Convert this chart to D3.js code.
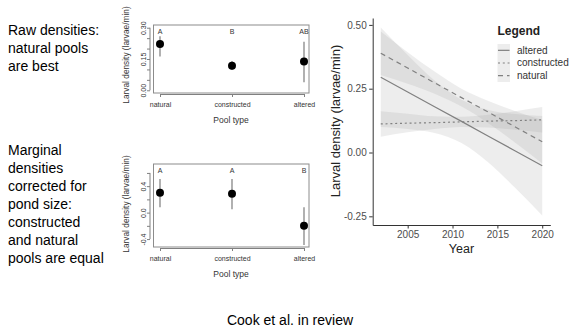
<!DOCTYPE html>
<html>
<head>
<meta charset="utf-8">
<script src="https://cdn.jsdelivr.net/npm/d3@7"></script>
<style>
  body { margin: 0; background: #fff; }
  svg { display: block; font-family: "Liberation Sans", Arial, sans-serif; }
</style>
</head>
<body>
<div id="chart"></div>
<script>
// raw densities by pool type (left top)
const poolTypes = ["natural", "constructed", "altered"]
const rawMean = [0.222, 0.118, 0.138]
const rawLow = [0.162, 0.097, 0.039]
const rawHigh = [0.259, 0.141, 0.233]
const rawGroups = ["A", "B", "AB"]
const rawTicks = [0, 0.05, 0.10, 0.15, 0.20, 0.25, 0.30]
const rawTickLabels = ["0.00", "", "", "0.15", "", "", "0.30"]

// marginal densities (left bottom)
const margMean = [0.30, 0.285, -0.20]
const margLow = [0.08, 0.05, -0.49]
const margHigh = [0.51, 0.51, 0.08]
const margGroups = ["A", "A", "B"]
const margTicks = [-0.4, -0.2, 0, 0.2, 0.4, 0.6]
const margTickLabels = ["-0.4", "", "0.0", "", "0.4", ""]

// trend over years (right)
const years = [2002, 2005, 2008, 2011, 2014, 2017, 2020]
const alteredFit = [0.295, 0.237, 0.179, 0.122, 0.064, 0.006, -0.052]
const alteredLow = [0.100, 0.092, 0.076, 0.037, -0.039, -0.139, -0.247]
const alteredHigh = [0.490, 0.382, 0.282, 0.207, 0.167, 0.151, 0.143]
const constructedFit = [0.112, 0.115, 0.117, 0.120, 0.123, 0.125, 0.128]
const constructedLow = [0.062, 0.079, 0.092, 0.100, 0.098, 0.089, 0.078]
const constructedHigh = [0.162, 0.152, 0.142, 0.140, 0.148, 0.162, 0.178]
const naturalFit = [0.389, 0.331, 0.273, 0.215, 0.158, 0.100, 0.042]
const naturalLow = [0.304, 0.269, 0.230, 0.180, 0.115, 0.038, -0.043]
const naturalHigh = [0.474, 0.393, 0.317, 0.250, 0.202, 0.162, 0.127]
const yearTicks = [2005, 2010, 2015, 2020]
const densityTicks = [-0.25, 0, 0.25, 0.50]
const legendLabels = ["altered", "constructed", "natural"]

const rawNote = ["Raw densities:", "natural pools", "are best"]
const margNote = ["Marginal", "densities", "corrected for", "pond size:", "constructed", "and natural", "pools are equal"]

const svg = d3.select("#chart").append("svg")
  .attr("width", 571)
  .attr("height", 336)

/**
 * base-R style point + interval panel
 */
function DotPanel(p) {
  const y = d3.scaleLinear().domain(p.domain).range([p.bottom, p.top])
  const x = d3.scalePoint().domain(poolTypes).range([160, 304])
  const g = svg.append("g").classed("dots", true)

  g.append("rect")
    .attr("x", 153.5).attr("y", p.top)
    .attr("width", 155.5).attr("height", p.bottom - p.top)
    .attr("fill", "none").attr("stroke", "#8c8c8c")

  const axisY = g.append("g").attr("transform", "translate(150,0)")
    .call(d3.axisLeft(y).tickValues(p.ticks).tickSize(3)
      .tickFormat(d => p.tickLabels[p.ticks.indexOf(d)]))
  // axis line only between first and last tick
  axisY.select(".domain")
    .attr("d", `M0,${y(p.ticks[0])}V${y(p.ticks[p.ticks.length - 1])}`)
  axisY.selectAll("text")
    .attr("x", 0).attr("y", -4.5).attr("dy", null)
    .attr("text-anchor", "middle")
    .attr("transform", "rotate(-90)")

  const axisX = g.append("g").attr("transform", `translate(0,${p.bottom + 1})`)
    .call(d3.axisBottom(x).tickSize(3).tickSizeOuter(0).tickPadding(5))

  g.selectAll(".tick line, .domain").attr("stroke", "#808080")
  g.selectAll(".tick text").attr("fill", "#333").attr("font-size", 7)
  axisY.attr("font-family", null)
  axisX.attr("font-family", null)

  g.append("text")
    .attr("x", 231).attr("y", p.bottom + 30)
    .attr("text-anchor", "middle").attr("font-size", 8.5).attr("fill", "#333")
    .text("Pool type")

  g.append("text")
    .attr("transform", `translate(129,${p.titleY}) rotate(-90)`)
    .attr("text-anchor", "middle").attr("font-size", 8.3).attr("fill", "#333")
    .text("Larval density (larvae/min)")

  g.append("g").selectAll("line")
    .data(poolTypes)
    .join("line")
    .attr("x1", d => x(d)).attr("x2", d => x(d))
    .attr("y1", (d, i) => y(p.low[i]))
    .attr("y2", (d, i) => y(p.high[i]))
    .attr("stroke", "#707070").attr("stroke-width", 1.1)

  g.append("g").selectAll("circle")
    .data(poolTypes)
    .join("circle")
    .attr("cx", d => x(d))
    .attr("cy", (d, i) => y(p.mean[i]))
    .attr("r", 4)
    .attr("fill", "#000")

  g.append("g").selectAll("text")
    .data(poolTypes)
    .join("text")
    .attr("x", d => x(d)).attr("y", p.top + 9)
    .attr("text-anchor", "middle").attr("font-size", 7).attr("fill", "#333")
    .text((d, i) => p.groups[i])
}

DotPanel({
  top: 25, bottom: 93, domain: [-0.013, 0.313], titleY: 55,
  ticks: rawTicks, tickLabels: rawTickLabels,
  mean: rawMean, low: rawLow, high: rawHigh, groups: rawGroups
})

DotPanel({
  top: 164, bottom: 247, domain: [-0.52, 0.735], titleY: 204,
  ticks: margTicks, tickLabels: margTickLabels,
  mean: margMean, low: margLow, high: margHigh, groups: margGroups
})

// notes on the left
function Note(lines, y0) {
  svg.append("g").selectAll("text")
    .data(lines)
    .join("text")
    .attr("x", 8)
    .attr("y", (d, i) => y0 + i * 18)
    .attr("font-size", 14)
    .attr("fill", "#000")
    .text(d => d)
}
Note(rawNote, 35)
Note(margNote, 155)

svg.append("text")
  .attr("x", 290).attr("y", 325)
  .attr("text-anchor", "middle").attr("font-size", 14)
  .text("Cook et al. in review")

// ---- ggplot style trend panel ----
const xYear = d3.scaleLinear().domain([2001.1, 2020.9]).range([372.7, 550.3])
const yDens = d3.scaleLinear().domain([-0.284, 0.527]).range([225, 18])

const trend = svg.append("g").classed("trend", true)

const series = [
  { name: "altered", fit: alteredFit, low: alteredLow, high: alteredHigh, dash: null },
  { name: "constructed", fit: constructedFit, low: constructedLow, high: constructedHigh, dash: "2,2.8" },
  { name: "natural", fit: naturalFit, low: naturalLow, high: naturalHigh, dash: "5,4" }
]

const ribbon = d3.area()
  .x((d, i) => xYear(years[i]))
  .y0(d => yDens(d[0]))
  .y1(d => yDens(d[1]))
  .curve(d3.curveMonotoneX)

const fitLine = d3.line()
  .x((d, i) => xYear(years[i]))
  .y(d => yDens(d))

trend.append("g").selectAll("path")
  .data(series)
  .join("path")
  .attr("d", s => ribbon(s.low.map((v, i) => [v, s.high[i]])))
  .attr("fill", "#999")
  .attr("fill-opacity", 0.18)

trend.append("g").selectAll("path")
  .data(series)
  .join("path")
  .attr("d", s => fitLine(s.fit))
  .attr("fill", "none")
  .attr("stroke", "#808080")
  .attr("stroke-width", 1.2)
  .attr("stroke-dasharray", s => s.dash)

const axisLeftR = trend.append("g").attr("transform", "translate(372.7,0)")
  .call(d3.axisLeft(yDens).tickValues(densityTicks).tickSize(3.5).tickSizeOuter(0)
    .tickPadding(2.5).tickFormat(d => d.toFixed(2)))
const axisBottomR = trend.append("g").attr("transform", "translate(0,225)")
  .call(d3.axisBottom(xYear).tickValues(yearTicks).tickSize(3.5).tickSizeOuter(0)
    .tickPadding(2.5).tickFormat(d3.format("d")))

trend.selectAll(".domain").attr("stroke", "#333").attr("stroke-width", 1)
trend.selectAll(".tick line").attr("stroke", "#333")
trend.selectAll(".tick text").attr("fill", "#4d4d4d").attr("font-size", 10)
axisLeftR.attr("font-family", null)
axisBottomR.attr("font-family", null)

trend.append("text")
  .attr("x", 461.5).attr("y", 252.5)
  .attr("text-anchor", "middle").attr("font-size", 12.5).attr("fill", "#222")
  .text("Year")

trend.append("text")
  .attr("transform", "translate(339.5,121) rotate(-90)")
  .attr("text-anchor", "middle").attr("font-size", 13).attr("fill", "#222")
  .text("Larval density (larvae/min)")

// legend
const legend = trend.append("g").classed("legend", true)
legend.append("text")
  .attr("x", 497.5).attr("y", 34.5)
  .attr("font-size", 12).attr("font-weight", "bold").attr("fill", "#222")
  .text("Legend")

const keyY = d3.scaleBand().domain(legendLabels).range([44, 82])

const keys = legend.selectAll("g.key")
  .data(series)
  .join("g").classed("key", true)
  .attr("transform", s => `translate(497.5,${keyY(s.name)})`)

keys.append("rect")
  .attr("width", 12.5).attr("height", keyY.bandwidth())
  .attr("fill", "#999").attr("fill-opacity", 0.18)

keys.append("line")
  .attr("x1", 0.5).attr("x2", 12)
  .attr("y1", keyY.bandwidth() / 2).attr("y2", keyY.bandwidth() / 2)
  .attr("stroke", "#808080").attr("stroke-width", 1.2)
  .attr("stroke-dasharray", s => s.dash)

keys.append("text")
  .attr("x", 19.5).attr("y", keyY.bandwidth() / 2)
  .attr("dy", "0.35em")
  .attr("font-size", 10).attr("fill", "#333")
  .text(s => s.name)
</script>
</body>
</html>
